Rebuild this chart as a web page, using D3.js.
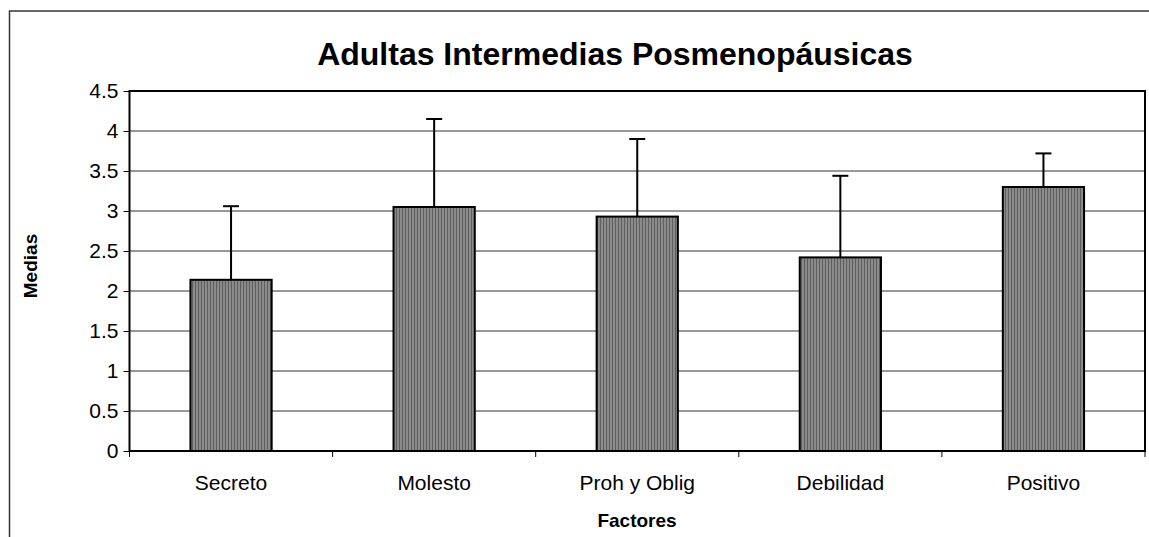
<!DOCTYPE html>
<html>
<head>
<meta charset="utf-8">
<script src="https://cdn.jsdelivr.net/npm/d3@7"></script>
<style>
  body { margin: 0; background: #fff; }
  svg { display: block; font-family: "Liberation Sans", Arial, sans-serif; }
</style>
</head>
<body>
<svg id="chart" width="1149" height="537"></svg>
<script>
// data
const categories = ['Secreto', 'Molesto', 'Proh y Oblig', 'Debilidad', 'Positivo'];
const means = [2.14, 3.05, 2.93, 2.42, 3.30];
const errTops = [3.06, 4.15, 3.90, 3.44, 3.72];
const yTicks = [0, 0.5, 1, 1.5, 2, 2.5, 3, 3.5, 4, 4.5];

const svg = d3.select('#chart');
const W = 1149, H = 537;
const m = { left: 129.5, right: 4, top: 91, bottom: 86 };

// outer frame (only top + left visible in the crop)
svg.append('path')
  .attr('d', `M9.5 ${H} V11 H${W}`)
  .attr('fill', 'none').attr('stroke', '#333').attr('stroke-width', 1.5);

// stripe fill for the bars
const defs = svg.append('defs');
const pat = defs.append('pattern').attr('id', 'stripes')
  .attr('patternUnits', 'userSpaceOnUse').attr('width', 3).attr('height', 4);
pat.append('rect').attr('width', 3).attr('height', 4).attr('fill', '#8a8a8a');
pat.append('rect').attr('width', 1).attr('height', 4).attr('fill', '#5e5e5e');

const x = d3.scaleBand().domain(categories)
  .range([m.left, W - m.right]).paddingInner(0.6).paddingOuter(0.3);
const y = d3.scaleLinear().domain([0, 4.5]).range([H - m.bottom, m.top]);

// gridlines
svg.append('g').selectAll('line').data(yTicks.filter(d => d > 0)).join('line')
  .attr('x1', m.left).attr('x2', W - m.right)
  .attr('y1', d => y(d)).attr('y2', d => y(d))
  .attr('stroke', '#333').attr('stroke-width', 1);

// bars
svg.append('g').selectAll('rect').data(means).join('rect')
  .attr('x', (d, i) => x(categories[i]))
  .attr('y', d => y(d))
  .attr('width', x.bandwidth())
  .attr('height', d => y(0) - y(d))
  .attr('fill', 'url(#stripes)').attr('stroke', '#000').attr('stroke-width', 2);

// error bars (upward only)
const eg = svg.append('g').attr('stroke', '#000').attr('stroke-width', 2);
categories.forEach((c, i) => {
  const cx = x(c) + x.bandwidth() / 2;
  eg.append('line').attr('x1', cx).attr('x2', cx).attr('y1', y(means[i])).attr('y2', y(errTops[i]));
  eg.append('line').attr('x1', cx - 8).attr('x2', cx + 8).attr('y1', y(errTops[i])).attr('y2', y(errTops[i]));
});

// plot border
svg.append('rect')
  .attr('x', m.left).attr('y', m.top)
  .attr('width', W - m.right - m.left).attr('height', y(0) - m.top)
  .attr('fill', 'none').attr('stroke', '#000').attr('stroke-width', 2);

// y axis
const yAxis = svg.append('g').attr('transform', `translate(${m.left},0)`)
  .call(d3.axisLeft(y).tickValues(yTicks).tickFormat(d3.format('')).tickSize(6).tickPadding(5));
yAxis.select('.domain').remove();
yAxis.selectAll('line').attr('stroke', '#000');
yAxis.selectAll('text').attr('font-size', 21).attr('fill', '#000')
  .attr('font-family', '"Liberation Sans", Arial, sans-serif');

// x axis: ticks at category boundaries
const bounds = d3.range(categories.length + 1).map(i => m.left + i * (W - m.right - m.left) / categories.length);
svg.append('g').selectAll('line').data(bounds).join('line')
  .attr('x1', d => d).attr('x2', d => d)
  .attr('y1', y(0)).attr('y2', y(0) + 6)
  .attr('stroke', '#000');
svg.append('g').selectAll('text').data(categories).join('text')
  .attr('x', c => x(c) + x.bandwidth() / 2)
  .attr('y', y(0) + 39)
  .attr('text-anchor', 'middle').attr('font-size', 21).text(c => c);

// titles
svg.append('text').attr('x', 615).attr('y', 65).attr('text-anchor', 'middle')
  .attr('font-size', 32).attr('font-weight', 'bold')
  .text('Adultas Intermedias Posmenopáusicas');
svg.append('text').attr('x', 637).attr('y', 527).attr('text-anchor', 'middle')
  .attr('font-size', 19).attr('font-weight', 'bold').text('Factores');
svg.append('text').attr('transform', 'translate(37,266) rotate(-90)')
  .attr('text-anchor', 'middle')
  .attr('font-size', 19).attr('font-weight', 'bold').text('Medias');
</script>
</body>
</html>
